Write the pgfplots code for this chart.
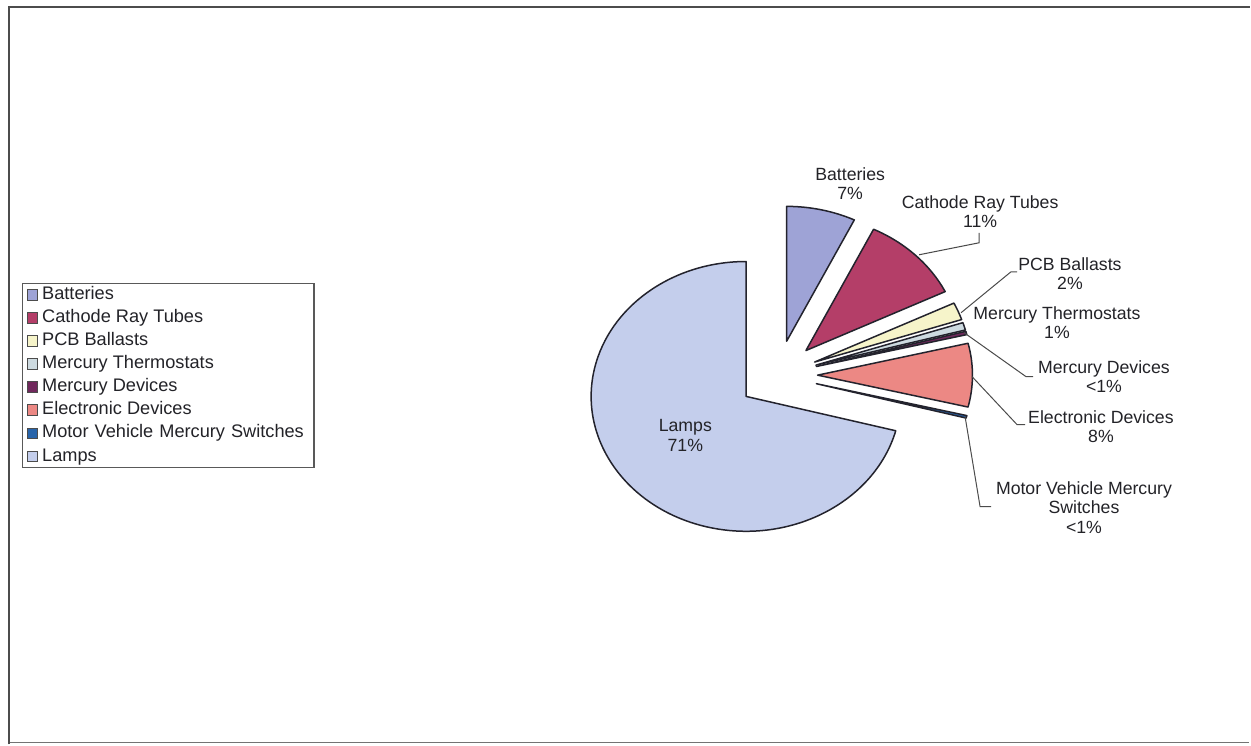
\documentclass[border=0pt]{standalone}
\usepackage{pgfplots}
\pgfplotsset{compat=1.18}
\usepackage{pgfplotstable}
\usepackage{fontspec}
\setmainfont{Liberation Sans}

\definecolor{c0}{RGB}{158,163,214}
\definecolor{c1}{RGB}{180,62,104}
\definecolor{c2}{RGB}{246,244,202}
\definecolor{c3}{RGB}{205,218,224}
\definecolor{c4}{RGB}{112,40,92}
\definecolor{c5}{RGB}{236,136,132}
\definecolor{c6}{RGB}{40,100,170}
\definecolor{c7}{RGB}{196,206,236}
\definecolor{edge}{RGB}{35,35,45}
\definecolor{txt}{RGB}{35,35,40}
\definecolor{lead}{RGB}{75,75,75}

% share of each category in percent (order as in the legend, clockwise from 12 o'clock)
\pgfplotstableread[col sep=comma]{
name,value
Batteries,7.2
Cathode Ray Tubes,10.6
PCB Ballasts,2.1
Mercury Thermostats,0.9
Mercury Devices,0.4
Electronic Devices,7.6
Motor Vehicle Mercury Switches,0.3
Lamps,70.9
}\piedata

% cumulative angles of the slices
\def\cum{90}
\pgfplotsforeachungrouped \i in {0,...,7}{%
  \pgfplotstablegetelem{\i}{value}\of\piedata
  \pgfmathsetmacro\pa{\cum}%
  \pgfmathsetmacro\pb{\cum-3.6*\pgfplotsretval}%
  \pgfmathsetmacro\pm{(\pa+\pb)/2}%
  \expandafter\xdef\csname pa\i\endcsname{\pa}%
  \expandafter\xdef\csname pb\i\endcsname{\pb}%
  \expandafter\xdef\csname pm\i\endcsname{\pm}%
  \xdef\cum{\pb}%
}

\begin{document}
\begin{tikzpicture}
\begin{axis}[
  x=0.5pt, y=0.5pt,
  xmin=0, xmax=1251, ymin=0, ymax=745,
  y dir=reverse,
  hide axis, clip=false,
  legend style={at={(axis cs:22,283)}, anchor=north west,
    draw=black!65, line width=0.6pt, fill=white,
    font=\fontsize{9.1}{10}\selectfont, text=txt,
    inner xsep=2pt, inner ysep=1.5pt,
    row sep=3.05pt,
    nodes={inner ysep=0pt, text height=6.6pt, text depth=1.9pt}},
  legend cell align=left,
]
% page background and frame
\fill[white] (axis cs:0,0) rectangle (axis cs:1251,745);
\draw[black!55, line width=0.6pt] (axis cs:9,743) -- (axis cs:1250,743);
\draw[black!70, line width=1.2pt] (axis cs:9,745) -- (axis cs:9,7) -- (axis cs:1251,7);

% slices, each exploded along its middle angle
\pgfplotsinvokeforeach{0,...,7}{
  \filldraw[fill=c#1, draw=edge, line width=0.75pt, line join=round]
    (axis cs:778.4,375.5) ++(\csname pm#1\endcsname:{0.258*77.5pt} and {0.258*67.5pt})
    -- ++(\csname pa#1\endcsname:77.5pt and 67.5pt)
    arc[start angle=\csname pa#1\endcsname, end angle=\csname pb#1\endcsname,
        x radius=77.5pt, y radius=67.5pt] -- cycle;
}

% leader lines
\draw[lead, line width=0.5pt] (axis cs:920,255) -- (axis cs:980,243) -- (axis cs:980,233);
\draw[lead, line width=0.5pt] (axis cs:962,313) -- (axis cs:1012,272) -- (axis cs:1018,272);
\draw[lead, line width=0.5pt] (axis cs:965,333) -- (axis cs:1027,377) -- (axis cs:1034,377);
\draw[lead, line width=0.5pt] (axis cs:973,377) -- (axis cs:1018,425) -- (axis cs:1026,425);
\draw[lead, line width=0.5pt] (axis cs:966,417) -- (axis cs:981,507) -- (axis cs:992,507);

% data labels
\begin{scope}[every node/.style={align=center, text=txt, font=\fontsize{8.85}{9.8}\selectfont}]
\node at (axis cs:851,184) {Batteries\\7\%};
\node at (axis cs:981,212) {Cathode Ray Tubes\\11\%};
\node at (axis cs:1071,274) {PCB Ballasts\\2\%};
\node at (axis cs:1058,323) {Mercury Thermostats\\1\%};
\node at (axis cs:1105,377) {Mercury Devices\\<1\%};
\node at (axis cs:1102,427) {Electronic Devices\\8\%};
\node at (axis cs:1085,508) {Motor Vehicle Mercury\\Switches\\<1\%};
\node at (axis cs:686,436) {Lamps\\71\%};
\end{scope}

% legend
\addlegendimage{legend image code/.code={\draw[fill=c0,draw=black!70,line width=0.4pt] (0pt,-2.7pt) rectangle (5.4pt,2.7pt);}}
\addlegendentry{Batteries}
\addlegendimage{legend image code/.code={\draw[fill=c1,draw=black!70,line width=0.4pt] (0pt,-2.7pt) rectangle (5.4pt,2.7pt);}}
\addlegendentry{Cathode Ray Tubes}
\addlegendimage{legend image code/.code={\draw[fill=c2,draw=black!70,line width=0.4pt] (0pt,-2.7pt) rectangle (5.4pt,2.7pt);}}
\addlegendentry{PCB Ballasts}
\addlegendimage{legend image code/.code={\draw[fill=c3,draw=black!70,line width=0.4pt] (0pt,-2.7pt) rectangle (5.4pt,2.7pt);}}
\addlegendentry{Mercury Thermostats}
\addlegendimage{legend image code/.code={\draw[fill=c4,draw=black!70,line width=0.4pt] (0pt,-2.7pt) rectangle (5.4pt,2.7pt);}}
\addlegendentry{Mercury Devices}
\addlegendimage{legend image code/.code={\draw[fill=c5,draw=black!70,line width=0.4pt] (0pt,-2.7pt) rectangle (5.4pt,2.7pt);}}
\addlegendentry{Electronic Devices}
\addlegendimage{legend image code/.code={\draw[fill=c6,draw=black!70,line width=0.4pt] (0pt,-2.7pt) rectangle (5.4pt,2.7pt);}}
\addlegendentry[text width=132pt]{Motor Vehicle Mercury Switches}
\addlegendimage{legend image code/.code={\draw[fill=c7,draw=black!70,line width=0.4pt] (0pt,-2.7pt) rectangle (5.4pt,2.7pt);}}
\addlegendentry{Lamps}
\end{axis}
\end{tikzpicture}
\end{document}
